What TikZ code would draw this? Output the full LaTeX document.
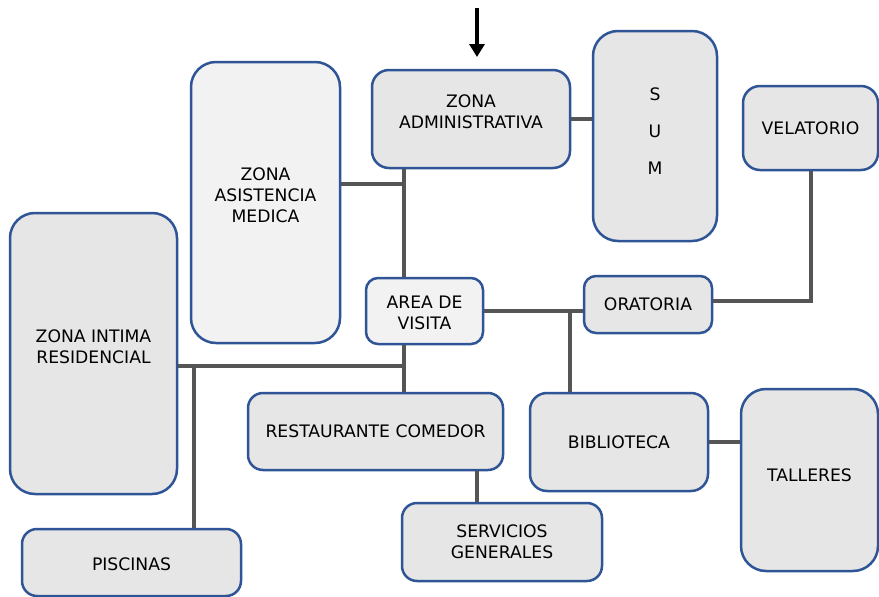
\documentclass[tikz,border=0pt]{standalone}
\usepackage{fontspec}
\setmainfont{DejaVu Sans}
\usetikzlibrary{arrows.meta}
\definecolor{zoneblue}{RGB}{47,85,151}
\definecolor{zonefill}{RGB}{230,230,230}
\definecolor{zonelight}{RGB}{242,242,242}
\definecolor{linkgray}{RGB}{85,85,85}
\tikzset{
  zone/.style={draw=zoneblue, line width=2.5pt, fill=zonefill, rounded corners=15pt,
    inner sep=0pt, align=center, font=\fontsize{17.2}{21}\selectfont},
  lightzone/.style={zone, fill=zonelight},
  link/.style={draw=linkgray, line width=4pt},
  entry/.style={draw=black, line width=4.5pt, -{Triangle[width=15pt,length=13pt]}},
  label/.style={align=center, inner sep=0pt, font=\fontsize{17.2}{21}\selectfont}
}
\begin{document}
\begin{tikzpicture}[x=1pt,y=-1pt]
\useasboundingbox (0,0) rectangle (879,597);
\fill[white] (0,0) rectangle (879,597);

% zones
\node[zone, minimum width=198pt, minimum height=98pt, rounded corners=17pt] (admin) at (471,119) {};
\node[label] (admintxt) at (471,112) {ZONA\\ADMINISTRATIVA};
\node[zone, minimum width=124pt, minimum height=210pt, rounded corners=25pt] (sum) at (655,136) {};
\node[align=center, inner sep=0pt, font=\fontsize{17.2}{37}\selectfont] (sumtxt) at (655,131) {S\\U\\M};
\node[zone, minimum width=135pt, minimum height=84pt, rounded corners=17pt] (velat) at (810.5,128) {VELATORIO};
\node[lightzone, minimum width=149pt, minimum height=281pt, rounded corners=25pt] (asis) at (265.5,202.5) {};
\node[label] (asistxt) at (265.5,195) {ZONA\\ASISTENCIA\\MEDICA};
\node[zone, minimum width=167pt, minimum height=281pt, rounded corners=25pt] (intima) at (93.5,353.5) {};
\node[label] (intimatxt) at (93.5,346.5) {ZONA INTIMA\\RESIDENCIAL};
\node[lightzone, minimum width=117pt, minimum height=66pt, rounded corners=12pt] (visita) at (424.5,311) {};
\node[label] (visitatxt) at (424.5,313) {AREA DE\\VISITA};
\node[zone, minimum width=128pt, minimum height=57pt, rounded corners=12pt] (orat) at (648,304.5) {ORATORIA};
\node[zone, minimum width=255pt, minimum height=77pt] (resto) at (375.5,431.5) {RESTAURANTE COMEDOR};
\node[zone, minimum width=178pt, minimum height=98pt, rounded corners=17pt] (biblio) at (619,442) {BIBLIOTECA};
\node[zone, minimum width=137pt, minimum height=182pt, rounded corners=25pt] (talleres) at (809.5,480) {};
\node[label] (tallerestxt) at (809.5,475) {TALLERES};
\node[zone, minimum width=200pt, minimum height=78pt] (serv) at (502,542) {SERVICIOS\\GENERALES};
\node[zone, minimum width=219pt, minimum height=67pt] (pisc) at (131.5,562.5) {};
\node[label] (pisctxt) at (131.5,564) {PISCINAS};

% junction points of the corridors
\coordinate (trunk) at (404,0);
\coordinate (jmed) at (404,184);
\coordinate (jres) at (404,366);
\coordinate (jpool) at (194,366);
\coordinate (jlib) at (570,310);
\coordinate (jvel) at (811,301);
\coordinate (jserv) at (477,0);
\coordinate (entrytop) at (477,8);
\coordinate (entrytip) at (477,57);

% corridors
\draw[link] (admin.east) -- (admin.east -| sum.west);
\draw[link] (admin.south -| trunk) -- (visita.north -| trunk);
\draw[link] (asis.east |- jmed) -- (jmed);
\draw[link] (visita.south -| trunk) -- (resto.north -| trunk);
\draw[link] (intima.east |- jres) -- (jres);
\draw[link] (jpool) -- (pisc.north -| jpool);
\draw[link] (visita.east) -- (visita.east -| orat.west);
\draw[link] (jlib) -- (biblio.north -| jlib);
\draw[link] (orat.east |- jvel) -- (jvel) -- (velat.south -| jvel);
\draw[link] (resto.south -| jserv) -- (serv.north -| jserv);
\draw[link] (biblio.east) -- (biblio.east -| talleres.west);

% main entrance
\draw[entry] (entrytop) -- (entrytip);
\end{tikzpicture}
\end{document}
